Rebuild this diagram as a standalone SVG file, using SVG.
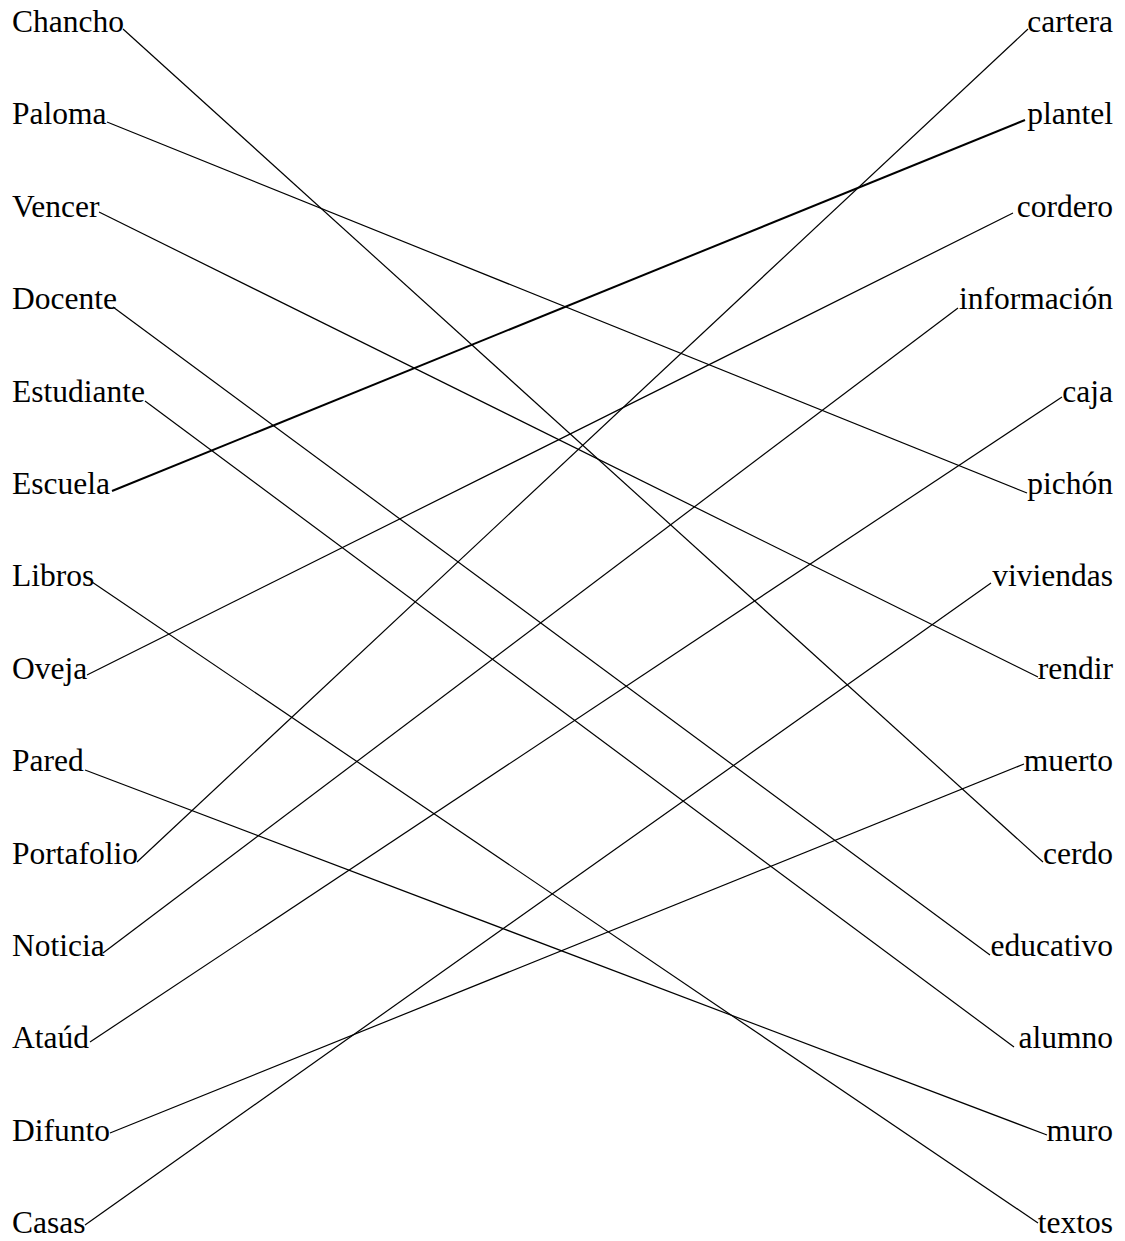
<svg xmlns="http://www.w3.org/2000/svg" width="1125" height="1241" viewBox="0 0 1125 1241">
<style>
text{font-family:"Liberation Serif","Times New Roman",serif;font-size:31.5px;fill:#000}
.r{text-anchor:end}
#connectors line{stroke:#000;stroke-width:1.2}
</style>
<rect width="1125" height="1241" fill="#fff"/>
<g id="connectors">
<line x1="123" y1="29" x2="1043" y2="862"/>
<line x1="107" y1="122" x2="1027" y2="493"/>
<line x1="99" y1="212" x2="1038" y2="677"/>
<line x1="113" y1="307" x2="990" y2="955"/>
<line x1="145" y1="401" x2="1014" y2="1047"/>
<line x1="112" y1="491" x2="1025" y2="120" style="stroke-width:2"/>
<line x1="92" y1="582" x2="1038" y2="1223"/>
<line x1="87" y1="675" x2="1013" y2="213"/>
<line x1="85" y1="770" x2="1047" y2="1135"/>
<line x1="137" y1="862" x2="1028" y2="29"/>
<line x1="103" y1="953" x2="958" y2="308"/>
<line x1="90" y1="1042" x2="1062" y2="397"/>
<line x1="110" y1="1133" x2="1024" y2="764"/>
<line x1="85" y1="1225" x2="991" y2="583"/>
</g>
<g id="left-0"><text x="12" y="32">Chancho</text></g>
<g id="left-1"><text x="12" y="124.4">Paloma</text></g>
<g id="left-2"><text x="12" y="216.8">Vencer</text></g>
<g id="left-3"><text x="12" y="309.2">Docente</text></g>
<g id="left-4"><text x="12" y="401.6">Estudiante</text></g>
<g id="left-5"><text x="12" y="494">Escuela</text></g>
<g id="left-6"><text x="12" y="586.4">Libros</text></g>
<g id="left-7"><text x="12" y="678.8">Oveja</text></g>
<g id="left-8"><text x="12" y="771.2">Pared</text></g>
<g id="left-9"><text x="12" y="863.6">Portafolio</text></g>
<g id="left-10"><text x="12" y="956">Noticia</text></g>
<g id="left-11"><text x="12" y="1048.4">Ataúd</text></g>
<g id="left-12"><text x="12" y="1140.8">Difunto</text></g>
<g id="left-13"><text x="12" y="1233.2">Casas</text></g>
<g id="right-0"><text class="r" x="1113" y="32">cartera</text></g>
<g id="right-1"><text class="r" x="1113" y="124.4">plantel</text></g>
<g id="right-2"><text class="r" x="1113" y="216.8">cordero</text></g>
<g id="right-3"><text class="r" x="1113" y="309.2">información</text></g>
<g id="right-4"><text class="r" x="1113" y="401.6">caja</text></g>
<g id="right-5"><text class="r" x="1113" y="494">pichón</text></g>
<g id="right-6"><text class="r" x="1113" y="586.4">viviendas</text></g>
<g id="right-7"><text class="r" x="1113" y="678.8">rendir</text></g>
<g id="right-8"><text class="r" x="1113" y="771.2">muerto</text></g>
<g id="right-9"><text class="r" x="1113" y="863.6">cerdo</text></g>
<g id="right-10"><text class="r" x="1113" y="956">educativo</text></g>
<g id="right-11"><text class="r" x="1113" y="1048.4">alumno</text></g>
<g id="right-12"><text class="r" x="1113" y="1140.8">muro</text></g>
<g id="right-13"><text class="r" x="1113" y="1233.2">textos</text></g>
</svg>
